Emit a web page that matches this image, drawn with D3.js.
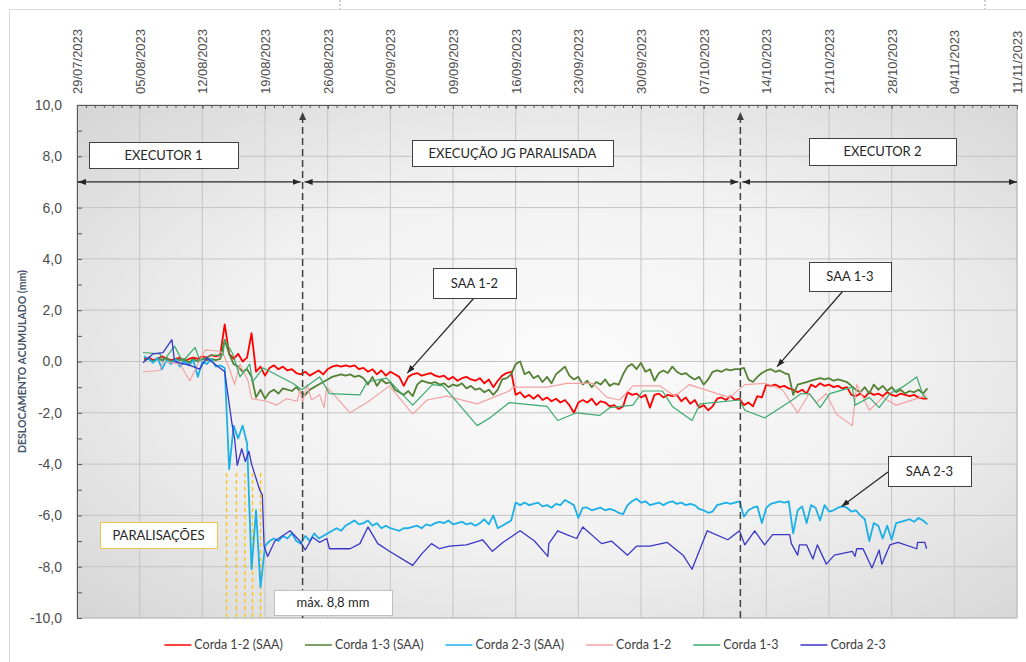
<!DOCTYPE html>
<html><head><meta charset="utf-8">
<script src="https://cdn.jsdelivr.net/npm/d3@7"></script>
<style>
body{margin:0;background:#fff;}
svg{display:block;font-family:Lato,"Open Sans",sans-serif;}
</style></head><body>
<svg id="chart" width="1026" height="662"></svg>
<script>
// ---------- DATA ----------
// x values are days counted from 29/07/2023
const tickDays = [0,7,14,21,28,35,42,49,56,63,70,77,84,91,98,105];
const tickLabels = ["29/07/2023","05/08/2023","12/08/2023","19/08/2023","26/08/2023","02/09/2023","09/09/2023","16/09/2023","23/09/2023","30/09/2023","07/10/2023","14/10/2023","21/10/2023","28/10/2023","04/11/2023","11/11/2023"];
const yTicks = [-10,-8,-6,-4,-2,0,2,4,6,8,10];
const seriesNames = ["Corda 1-2 (SAA)","Corda 1-3 (SAA)","Corda 2-3 (SAA)","Corda 1-2","Corda 1-3","Corda 2-3"];
const seriesColors = ["#ff0000","#548235","#1cb0e8","#f4a3a3","#3aaa6e","#3a36c8"];

// automatic (SAA) readings, one every half day from day 7.5
const saaStartDay = 7.5, saaStepDays = 0.5;
const saa12 = [
 0.1,0.15,0.05,0.1,0.2,0.1,0.05,0.1,0.15,0.0,
 0.1,0.15,0.1,0.2,0.15,0.25,0.2,0.25,1.45,0.3,
 0.1,0.3,0.0,0.15,1.1,-0.4,-0.2,-0.55,-0.25,-0.15,
 -0.3,-0.2,-0.35,-0.3,-0.45,-0.5,-0.4,-0.55,-0.45,-0.35,
 -0.5,-0.3,-0.2,-0.15,-0.2,-0.15,-0.2,-0.15,-0.3,-0.25,
 -0.4,-0.3,-0.5,-0.35,-0.55,-0.4,-0.5,-0.6,-0.95,-0.6,
 -0.5,-0.45,-0.55,-0.5,-0.45,-0.55,-0.6,-0.55,-0.7,-0.6,
 -0.75,-0.65,-0.6,-0.7,-0.75,-0.65,-0.85,-0.7,-1.0,-0.75,
 -0.55,-0.45,-0.4,-1.3,-1.2,-1.4,-1.3,-1.45,-1.3,-1.5,
 -1.4,-1.55,-1.45,-1.6,-1.5,-1.7,-2.0,-1.6,-1.5,-1.6,
 -1.45,-1.7,-1.55,-1.6,-1.75,-1.7,-1.85,-1.75,-1.2,-1.3,
 -1.25,-1.4,-1.3,-1.8,-1.3,-1.25,-1.4,-1.3,-1.35,-1.3,
 -1.55,-1.4,-1.65,-1.5,-1.8,-1.7,-1.9,-1.75,-1.45,-1.4,
 -1.5,-1.35,-1.5,-1.45,-1.7,-1.6,-1.75,-1.35,-1.4,-0.9,
 -0.95,-0.9,-1.0,-0.95,-1.05,-1.1,-1.2,-1.1,-1.25,-0.9,
 -1.0,-0.85,-0.95,-0.9,-1.0,-0.95,-1.05,-1.0,-1.3,-1.35,
 -1.25,-1.4,-1.2,-1.3,-1.25,-1.35,-1.2,-1.3,-1.35,-1.25,
 -1.3,-1.35,-1.3,-1.4,-1.45,-1.45
];
const saa13 = [
 0.05,0.1,0.0,0.1,0.05,0.15,0.0,0.1,0.05,0.1,
 -0.05,0.1,0.0,0.1,0.05,0.1,0.05,0.1,0.85,0.3,
 -0.1,-0.2,-0.4,-0.3,-0.6,-1.4,-1.1,-1.45,-1.2,-1.1,
 -1.25,-1.05,-1.1,-1.15,-1.0,-1.2,-1.3,-1.1,-1.0,-0.9,
 -0.8,-0.7,-0.6,-0.55,-0.5,-0.55,-0.5,-0.6,-0.55,-0.65,
 -0.9,-0.6,-0.95,-0.7,-0.85,-0.8,-1.1,-1.2,-1.3,-1.15,
 -1.35,-0.9,-0.75,-0.8,-0.85,-0.8,-0.9,-0.85,-1.0,-0.9,
 -0.95,-0.85,-1.05,-0.95,-1.1,-1.05,-1.2,-1.1,-1.3,-1.1,
 -0.7,-0.65,-0.5,-0.1,0.0,-0.5,-0.4,-0.65,-0.55,-0.8,
 -0.6,-0.85,-0.5,-0.35,-0.2,-0.55,-0.7,-0.6,-0.9,-0.75,
 -1.0,-0.8,-0.9,-0.7,-0.95,-0.85,-0.9,-0.5,-0.2,-0.1,
 -0.3,-0.05,-0.4,-0.3,-0.75,-0.45,-0.35,-0.45,-0.2,-0.4,
 -0.5,-0.45,-0.6,-0.7,-0.6,-0.9,-0.7,-0.4,-0.35,-0.4,
 -0.3,-0.35,-0.3,-0.3,-0.25,-0.7,-0.8,-0.6,-0.45,-0.35,
 -0.3,-0.4,-0.35,-0.45,-0.5,-1.3,-0.9,-0.85,-0.8,-0.75,
 -0.7,-0.65,-0.7,-0.65,-0.75,-0.7,-0.75,-0.8,-0.95,-1.1,
 -1.2,-1.0,-1.25,-0.9,-1.1,-0.95,-1.15,-1.0,-1.2,-1.1,
 -1.25,-1.15,-1.2,-1.1,-1.25,-1.05
];
const saa23 = [
 0.2,0.1,-0.05,0.15,-0.3,0.05,-0.1,0.1,-0.2,0.0,
 -0.15,0.05,-0.6,0.0,-0.1,0.1,-0.2,-0.15,-0.25,-4.2,
 -2.5,-3.0,-2.5,-3.2,-8.1,-5.8,-8.8,-7.2,-7.0,-6.9,
 -7.0,-6.8,-6.9,-6.7,-7.0,-7.1,-6.8,-7.0,-6.7,-6.9,
 -6.8,-6.7,-6.6,-6.5,-6.6,-6.4,-6.3,-6.2,-6.35,-6.3,
 -6.2,-6.4,-6.3,-6.5,-6.4,-6.5,-6.55,-6.6,-6.5,-6.5,
 -6.45,-6.4,-6.5,-6.35,-6.4,-6.3,-6.25,-6.3,-6.2,-6.35,
 -6.3,-6.25,-6.35,-6.3,-6.4,-6.3,-6.15,-6.35,-6.0,-6.5,
 -6.4,-6.3,-6.2,-5.5,-5.6,-5.5,-5.6,-5.55,-5.5,-5.65,
 -5.6,-5.7,-5.55,-5.6,-5.4,-5.5,-5.6,-6.1,-5.7,-5.7,
 -5.8,-5.75,-5.7,-5.8,-5.75,-5.8,-5.9,-5.95,-5.6,-5.45,
 -5.35,-5.5,-5.45,-5.6,-5.55,-5.5,-5.6,-5.5,-5.45,-5.55,
 -5.5,-5.6,-5.55,-5.6,-5.75,-5.8,-5.9,-5.85,-5.6,-5.55,
 -5.5,-5.55,-5.5,-5.45,-6.05,-5.8,-5.7,-5.65,-6.3,-5.7,
 -5.55,-5.5,-5.45,-5.5,-5.45,-6.7,-5.8,-5.65,-6.3,-5.6,
 -5.7,-6.2,-5.6,-5.85,-5.8,-5.7,-5.65,-5.7,-5.85,-5.8,
 -6.0,-6.15,-7.0,-6.3,-6.4,-6.9,-6.4,-6.95,-6.3,-6.25,
 -6.2,-6.15,-6.25,-6.1,-6.2,-6.35
];

// manual readings: [day, mm]
const corda12 = [[7.37,-0.4],[9.27,-0.35],[9.6,0.0],[11.5,-0.1],[12.6,-0.75],[14.3,0.45],[15.97,0.4],[16.4,0.25],
 [17.1,-0.35],[17.6,-0.9],[18.2,-0.1],[19.1,-0.75],[19.5,-1.45],[21.2,-1.55],[22.3,-1.7],[23.4,-1.45],[24.6,-1.55],
 [24.9,-1.1],[25.2,-1.6],[25.7,-0.9],[26.2,-1.5],[27.1,-1.3],[27.6,-1.8],[27.9,-1.0],[28.2,-1.1],[30.5,-2.0],
 [32.4,-1.6],[34.9,-0.95],[37.5,-2.05],[39.1,-1.5],[41.3,-1.35],[44.7,-1.65],[47.2,-1.3],[48.3,-1.15],[48.7,-1.0],
 [52.5,-1.0],[54.7,-0.85],[57.6,-0.85],[59.2,-1.4],[60.6,-1.5],[62.1,-0.95],[65.1,-0.95],[66.8,-1.35],[68.4,-0.9],
 [71.5,-1.25],[72.9,-1.4],[74.6,-0.9],[76.8,-0.85],[78.8,-1.1],[80.5,-2.0],[81.8,-1.25],[82.6,-1.6],[83.7,-1.25],
 [84.8,-2.05],[86.6,-2.5],[87.1,-0.9],[88.5,-1.9],[90.0,-1.4],[91.5,-1.7],[93.8,-1.45],[94.9,-1.3]];
const corda13 = [[7.37,0.35],[9.27,0.3],[9.6,0.0],[10.9,0.6],[11.8,0.0],[13.2,0.55],[13.7,0.05],[15.1,0.25],[16.3,0.25],
 [16.5,0.85],[17.4,0.3],[18.2,-0.6],[19.3,-0.1],[19.6,-0.8],[20.8,-0.25],[24.1,-0.85],[25.1,-1.1],[27.1,-0.6],
 [28.2,-1.25],[31.6,-1.3],[32.4,-0.8],[34.6,-0.65],[37.5,-1.7],[39.7,-0.9],[40.9,-0.95],[44.7,-2.5],[46.1,-2.2],
 [48.3,-1.6],[52.5,-1.75],[53.7,-2.3],[55.8,-2.0],[58.4,-2.1],[59.5,-1.8],[62.1,-1.7],[63.2,-1.15],[65.4,-1.15],
 [66.5,-1.75],[68.7,-2.3],[69.6,-1.65],[74.0,-1.5],[74.6,-1.9],[76.8,-2.2],[79.9,-1.5],[80.9,-1.25],[81.8,-1.25],
 [83.0,-1.8],[84.1,-1.25],[86.6,-1.0],[86.9,-1.7],[88.5,-1.4],[89.6,-1.8],[90.8,-1.25],[92.2,-1.0],[93.8,-0.6],
 [94.5,-1.3],[94.9,-1.45]];
const corda23 = [[7.37,-0.05],[8.5,0.3],[9.6,0.35],[10.6,0.85],[10.9,0.0],[12.6,-0.15],[13.7,-0.3],[14.5,0.15],[15.2,-0.05],
 [16.5,-0.4],[17.3,-2.4],[17.6,-3.0],[17.9,-4.05],[18.4,-3.4],[18.8,-3.9],[19.2,-3.5],[19.5,-4.0],[20.4,-5.0],
 [20.7,-5.2],[20.9,-7.2],[21.3,-7.6],[22.1,-7.0],[23.8,-6.6],[24.9,-7.0],[25.5,-7.35],[26.3,-6.85],[27.1,-7.05],
 [27.9,-6.9],[28.2,-7.3],[30.5,-7.3],[31.6,-7.1],[32.5,-6.45],[33.6,-7.1],[34.9,-7.4],[37.5,-7.95],[38.5,-7.5],
 [39.6,-7.1],[40.5,-7.3],[41.6,-7.2],[43.5,-7.15],[45.3,-6.95],[46.4,-7.4],[47.6,-7.05],[49.5,-6.6],[51.1,-7.0],
 [52.6,-7.6],[52.7,-7.1],[53.7,-6.6],[54.7,-6.75],[55.8,-6.9],[56.5,-6.45],[58.6,-7.1],[59.7,-7.0],[61.5,-7.55],
 [62.5,-7.2],[64.0,-7.2],[65.9,-7.05],[67.7,-7.55],[68.7,-8.1],[70.4,-6.6],[72.7,-6.95],[74.0,-6.6],[74.6,-7.15],
 [75.7,-6.6],[76.8,-7.15],[77.7,-6.75],[79.6,-6.75],[79.8,-7.1],[80.5,-7.55],[80.7,-7.15],[81.5,-7.15],[82.2,-7.7],
 [82.7,-7.15],[83.7,-7.9],[84.6,-7.55],[86.6,-7.4],[86.9,-7.6],[87.1,-7.3],[87.8,-7.3],[88.8,-8.05],[89.6,-7.35],
 [89.9,-7.9],[90.8,-7.15],[91.7,-7.05],[93.8,-7.3],[93.9,-7.05],[94.7,-7.05],[94.9,-7.3]];

const phaseChangeDays = [25.2, 74.1];
const phaseLabels = ["EXECUTOR 1","EXECUÇÃO JG PARALISADA","EXECUTOR 2"];
const stopDays = [16.7, 17.8, 18.75, 19.6, 20.5];
const phaseArrowLevel = 7.0;

// ---------- CHART ----------
const svg = d3.select("#chart");
const L = 77, R = 1017, T = 105, B = 618;
const x = d3.scaleLinear().domain([0,105]).range([L,R]);
const y = d3.scaleLinear().domain([-10,10]).range([B,T]);
const loc = d3.formatLocale({decimal:",",thousands:".",grouping:[3],currency:["R$",""],minus:"-"});
const fmt = loc.format(".1f");

const defs = svg.append("defs");
const grad = defs.append("radialGradient").attr("id","bg").attr("cx","52%").attr("cy","50%").attr("r","72%");
grad.append("stop").attr("offset","0%").attr("stop-color","#fbfbfb");
grad.append("stop").attr("offset","50%").attr("stop-color","#f1f1f1");
grad.append("stop").attr("offset","100%").attr("stop-color","#d5d5d5");
function marker(id, color, w, h){
  defs.append("marker").attr("id",id).attr("viewBox",`0 0 ${w} ${h}`).attr("refX",w).attr("refY",h/2)
    .attr("markerWidth",w).attr("markerHeight",h).attr("markerUnits","userSpaceOnUse")
    .attr("orient","auto-start-reverse")
    .append("path").attr("d",`M0,0L${w},${h/2}L0,${h}Z`).attr("fill",color);
}
marker("ah","#262626",8,6);
marker("ahd","#404040",8,7);

// outer chart border + page marks
svg.append("rect").attr("x",9.5).attr("y",9.5).attr("width",1040).attr("height",680)
  .attr("fill","none").attr("stroke","#d9d9d9");
[340,985].forEach(px=>svg.append("line").attr("x1",px).attr("x2",px).attr("y1",0).attr("y2",9)
  .attr("stroke","#a0a0a0").attr("stroke-dasharray","2,2"));

// plot background
svg.append("rect").attr("x",L).attr("y",T).attr("width",R-L).attr("height",B-T).attr("fill","url(#bg)");

// grid
const grid = svg.append("g");
grid.selectAll(".vg").data(tickDays).join("line").attr("x1",d=>x(d)).attr("x2",d=>x(d))
  .attr("y1",T).attr("y2",B).attr("stroke","#c4c4c4").attr("stroke-width",1);
grid.selectAll(".hg").data(yTicks).join("line").attr("y1",d=>y(d)).attr("y2",d=>y(d))
  .attr("x1",L).attr("x2",R).attr("stroke","#c4c4c4").attr("stroke-width",1);
svg.append("line").attr("x1",R).attr("x2",R).attr("y1",T).attr("y2",B).attr("stroke","#bfbfbf");
svg.append("line").attr("x1",L).attr("x2",R).attr("y1",B).attr("y2",B).attr("stroke","#bfbfbf");

// top axis (dates)
const xAxis = svg.append("g").attr("transform",`translate(0,${T})`)
  .call(d3.axisTop(x).tickValues(tickDays).tickFormat((d,i)=>tickLabels[i]).tickSizeInner(-4).tickSizeOuter(0));
xAxis.select(".domain").attr("stroke","#595959");
xAxis.selectAll(".tick line").attr("stroke","#595959");
xAxis.selectAll(".tick text").attr("fill","#4d4d4d").style("font-size","13px")
  .attr("transform","rotate(-90)").attr("x",11).attr("y",0).attr("dy","0.35em").attr("text-anchor","start");
const xMinor = svg.append("g").attr("transform",`translate(0,${T})`)
  .call(d3.axisTop(x).tickValues(d3.range(0,106,1)).tickFormat("").tickSizeInner(-3).tickSizeOuter(0));
xMinor.select(".domain").remove();
xMinor.selectAll(".tick line").attr("stroke","#595959");

// left axis
const yAxis = svg.append("g").attr("transform",`translate(${L},0)`)
  .call(d3.axisLeft(y).tickValues(yTicks).tickFormat(d=>fmt(d)).tickSizeInner(-5).tickSizeOuter(0).tickPadding(15));
yAxis.select(".domain").attr("stroke","#595959");
yAxis.selectAll(".tick line").attr("stroke","#595959");
yAxis.selectAll(".tick text").attr("fill","#4d4d4d").style("font-size","14px");
const yMinor = svg.append("g").attr("transform",`translate(${L},0)`)
  .call(d3.axisLeft(y).tickValues(d3.range(-9,10,2)).tickFormat("").tickSizeInner(-5).tickSizeOuter(0));
yMinor.select(".domain").remove();
yMinor.selectAll(".tick line").attr("stroke","#595959");

svg.append("text").attr("transform",`translate(22,${(T+B)/2}) rotate(-90)`).attr("text-anchor","middle")
  .attr("dy","0.35em").attr("fill","#44546a").style("font-size","10.5px").style("font-weight","bold")
  .text("DESLOCAMENTO ACUMULADO (mm)");

// stop (paralisação) markers
svg.selectAll(".stop").data(stopDays).join("line").attr("x1",d=>x(d)).attr("x2",d=>x(d))
  .attr("y1",y(-4.35)).attr("y2",B).attr("stroke","#ffc000").attr("stroke-width",1.2).attr("stroke-dasharray","4,3");

// series
const line = d3.line().x(d=>x(d[0])).y(d=>y(d[1]));
const toPts = arr => arr.map((v,i)=>[saaStartDay+i*saaStepDays, v]);
const allSeries = [toPts(saa12), toPts(saa13), toPts(saa23), corda12, corda13, corda23];
const widths = [1.8,1.8,1.8,1.2,1.2,1.3];
svg.append("g").selectAll("path").data(allSeries).join("path")
  .attr("d",line).attr("fill","none").attr("stroke",(d,i)=>seriesColors[i])
  .attr("stroke-width",(d,i)=>widths[i]).attr("stroke-linejoin","round");

// phase dividers (dashed) with up arrow
svg.selectAll(".phase").data(phaseChangeDays).join("line").attr("x1",d=>x(d)).attr("x2",d=>x(d))
  .attr("y1",B).attr("y2",T+7).attr("stroke","#404040").attr("stroke-width",1.5)
  .attr("stroke-dasharray","7,4").attr("marker-end","url(#ahd)");

// phase double arrows
const bounds = [0, ...phaseChangeDays, 105];
const ay = y(phaseArrowLevel);
for (let i=0;i<3;i++){
  const x1 = x(bounds[i]) + (i===0?1:2), x2 = x(bounds[i+1]) - (i===2?0:2);
  svg.append("line").attr("x1",x1).attr("x2",x2).attr("y1",ay).attr("y2",ay)
    .attr("stroke","#262626").attr("stroke-width",1.2)
    .attr("marker-start","url(#ah)").attr("marker-end","url(#ah)");
}

// boxed labels
function box(x0,y0,w,h,label,stroke){
  svg.append("rect").attr("x",x0+0.5).attr("y",y0+0.5).attr("width",w).attr("height",h)
    .attr("fill","#fff").attr("stroke",stroke||"#404040").attr("stroke-width",1);
  svg.append("text").attr("x",x0+w/2).attr("y",y0+h/2).attr("dy","0.36em").attr("text-anchor","middle")
    .attr("fill","#262626").style("font-size","13px").text(label);
}
box(89,142,149,26,phaseLabels[0]);
box(412,140,201,26,phaseLabels[1]);
box(809,138,147,27,phaseLabels[2]);

function callout(x0,y0,w,h,label,ax1,ay1,ax2,ay2){
  svg.append("line").attr("x1",ax1).attr("y1",ay1).attr("x2",ax2).attr("y2",ay2)
    .attr("stroke","#262626").attr("stroke-width",1.2).attr("marker-end","url(#ah)");
  box(x0,y0,w,h,label);
}
callout(433,268,83,30,"SAA 1-2",474,298,x(36.9),y(-0.45));
callout(809,262,82,29,"SAA 1-3",843,291,x(78.2),y(-0.2));
callout(888,456,83,30,"SAA 2-3",888,472,x(85.4),y(-5.65));

box(100,522,117,26,"PARALISAÇÕES","#f2c14e");
box(274,590,118,25,"máx. 8,8 mm","#bfbfbf");

// legend
const lg = svg.append("g");
let cx = 0;
seriesNames.forEach((n,i)=>{
  const g = lg.append("g").attr("transform",`translate(${cx},0)`);
  g.append("line").attr("x1",0).attr("x2",27).attr("y1",0).attr("y2",0)
    .attr("stroke",seriesColors[i]).attr("stroke-width",1.5);
  const t = g.append("text").attr("x",30).attr("dy","0.35em").attr("fill","#404040")
    .style("font-size","12.5px").text(n);
  cx += 30 + t.node().getComputedTextLength() + 22;
});
const total = cx - 22;
lg.attr("transform",`translate(${525 - total/2},645)`);
</script>
</body></html>
